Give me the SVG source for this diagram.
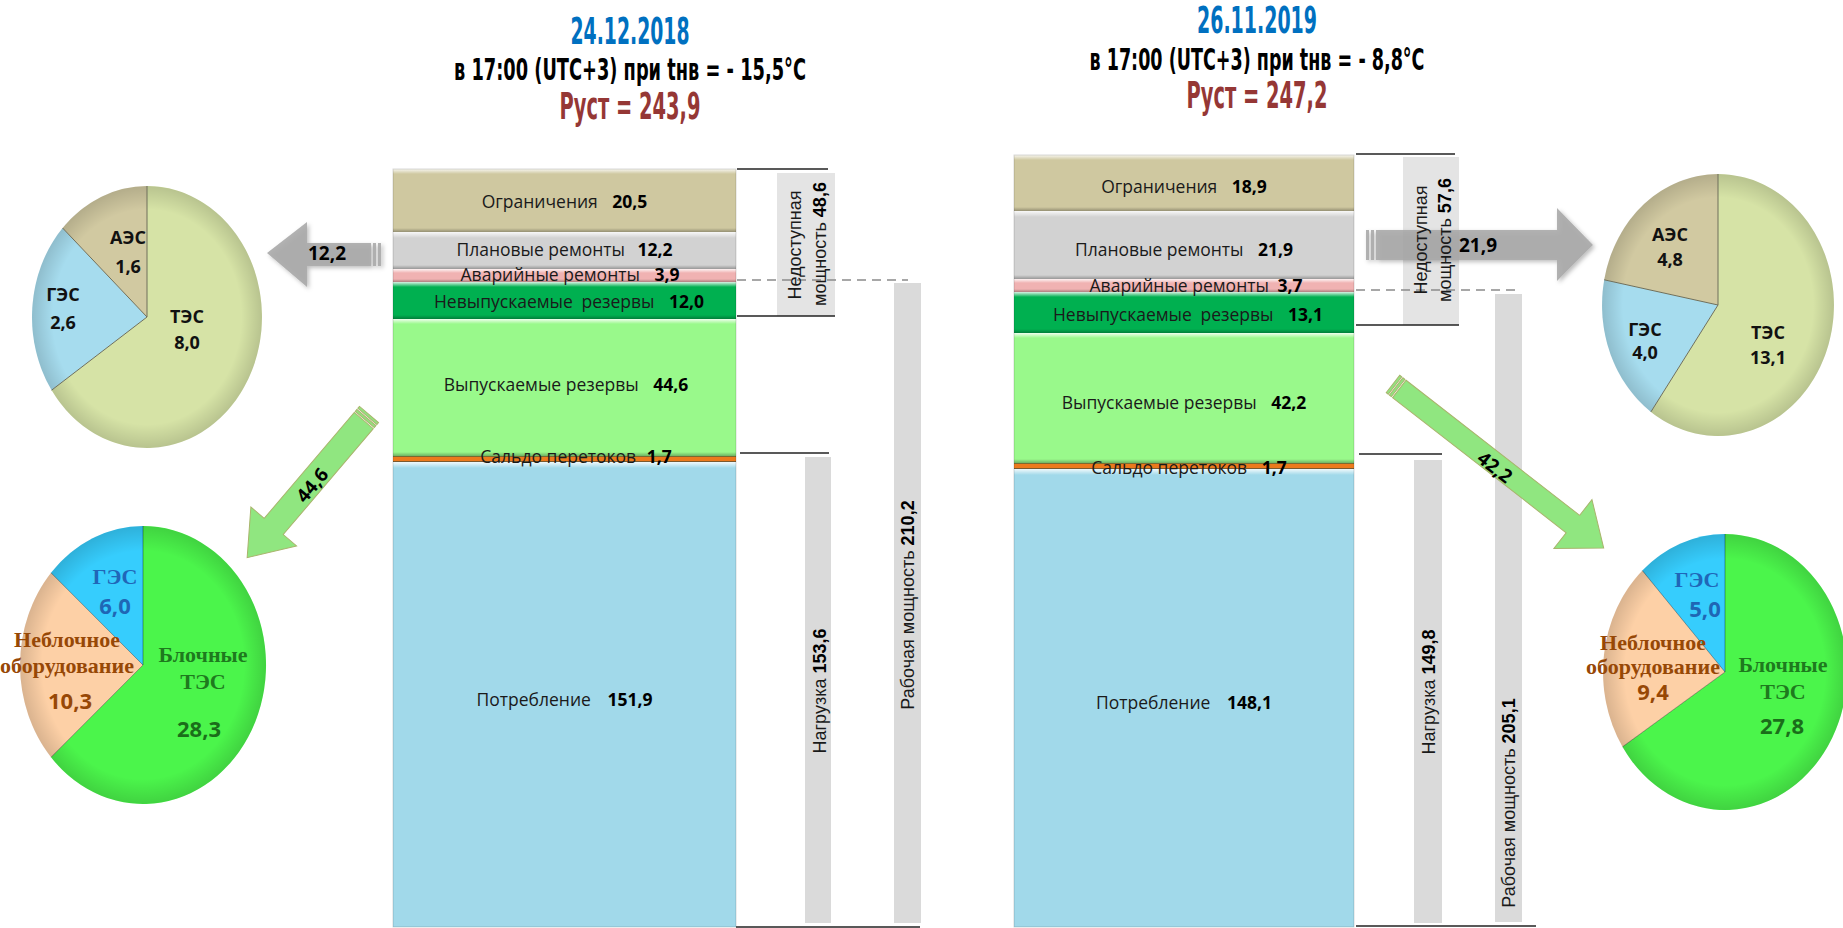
<svg xmlns="http://www.w3.org/2000/svg" width="1843" height="928" viewBox="0 0 1843 928">
<defs>
<style>
.lbl{font-family:"Open Sans","Noto Sans",sans-serif;font-size:17.5px;fill:#1a1a1a;text-anchor:middle}
.b{font-weight:bold;fill:#000}
.rot{font-family:"Liberation Sans",Arial,sans-serif;font-size:18px;fill:#1a1a1a;text-anchor:middle}
.pl{font-family:"Open Sans","Noto Sans",sans-serif;font-weight:bold;font-size:18px;fill:#111;text-anchor:middle}
.ps{font-family:"Liberation Serif","Times New Roman",serif;font-weight:bold;font-size:22px;text-anchor:middle}
.pn{font-family:"Open Sans","Noto Sans",sans-serif;font-weight:bold;font-size:22px;text-anchor:middle}
.t1{font-family:"DejaVu Sans Condensed","DejaVu Sans",sans-serif;font-weight:bold;text-anchor:middle}
.al{font-family:"Open Sans","Noto Sans",sans-serif;font-weight:bold;font-size:19px;fill:#000;text-anchor:middle}
.line{stroke:#222;stroke-width:1.5}
.dash{stroke:#8a8a8a;stroke-width:1.5;stroke-dasharray:9 6}
.gbar{fill:#dadada}
.garrow{fill:#a6a6a6;opacity:0.85}
.grarrow{fill:#90e680;stroke:#a9b46c;stroke-width:1}
.sep{stroke:#6f6f5a;stroke-width:1;fill:none}
.sep2{stroke:rgba(0,0,0,0.35);stroke-width:1;fill:none}
.hl{fill:url(#hl)}
.sh{fill:url(#sh)}
</style>
<linearGradient id="hl" x1="0" y1="0" x2="0" y2="1">
<stop offset="0" stop-color="#fff" stop-opacity="0.85"/>
<stop offset="1" stop-color="#fff" stop-opacity="0"/>
</linearGradient>
<linearGradient id="sh" x1="0" y1="0" x2="0" y2="1">
<stop offset="0" stop-color="#000" stop-opacity="0"/>
<stop offset="1" stop-color="#000" stop-opacity="0.28"/>
</linearGradient>
<radialGradient id="pieShade" cx="0.5" cy="0.5" r="0.5">
<stop offset="0.82" stop-color="#000" stop-opacity="0"/>
<stop offset="1" stop-color="#000" stop-opacity="0.14"/>
</radialGradient>
<filter id="shadow" x="-20%" y="-20%" width="140%" height="140%">
<feDropShadow dx="2" dy="2" stdDeviation="2" flood-color="#000" flood-opacity="0.3"/>
</filter>
</defs>
<rect x="0" y="0" width="1843" height="928" fill="#fff"/>

<g id="title-left">
<text class="t1" x="630" y="44" font-size="38" textLength="119" lengthAdjust="spacingAndGlyphs" fill="#0070c0">24.12.2018</text>
<text class="t1" x="630" y="80" font-size="31" textLength="352" lengthAdjust="spacingAndGlyphs" fill="#000">в 17:00 (UTC+3) при tнв = - 15,5°C</text>
<text class="t1" x="630" y="119" font-size="37" textLength="141" lengthAdjust="spacingAndGlyphs" fill="#953735">Руст = 243,9</text>
</g>
<g id="title-right">
<text class="t1" x="1257" y="33" font-size="38" textLength="120" lengthAdjust="spacingAndGlyphs" fill="#0070c0">26.11.2019</text>
<text class="t1" x="1257" y="70" font-size="31" textLength="335" lengthAdjust="spacingAndGlyphs" fill="#000">в 17:00 (UTC+3) при tнв =  - 8,8°C</text>
<text class="t1" x="1257" y="108" font-size="37" textLength="141" lengthAdjust="spacingAndGlyphs" fill="#953735">Руст = 247,2</text>
</g>

<g id="bar-left">
<rect x="393" y="169" width="343" height="63" fill="#cfc8a0"/>
<rect x="393" y="169" width="343" height="5" class="hl"/><rect x="393" y="228" width="343" height="4" class="sh"/>
<rect x="393" y="232" width="343" height="37" fill="#d2d2d2"/>
<rect x="393" y="232" width="343" height="6" class="hl"/><rect x="393" y="265" width="343" height="4" class="sh"/>
<rect x="393" y="269" width="343" height="13" fill="#f0b2b2"/>
<rect x="393" y="269" width="343" height="4" class="hl"/><rect x="393" y="279" width="343" height="3" class="sh"/>
<rect x="393" y="282" width="343" height="37" fill="#00b050"/>
<rect x="393" y="282" width="343" height="5" class="hl"/><rect x="393" y="315" width="343" height="4" class="sh"/>
<rect x="393" y="319" width="343" height="137" fill="#99f98b"/>
<rect x="393" y="319" width="343" height="5" class="hl"/><rect x="393" y="452" width="343" height="4" class="sh"/>
<rect x="393" y="462" width="343" height="465" fill="#a1d9ea"/>
<rect x="393" y="462" width="343" height="6" class="hl"/>
<rect x="393" y="456" width="343" height="6" fill="#ec7a1c"/>
<line x1="393" y1="456.5" x2="736" y2="456.5" stroke="#7a6a30" stroke-width="1"/>
<line x1="393" y1="461.5" x2="736" y2="461.5" stroke="#7a5a30" stroke-width="1"/>
<rect x="393" y="169" width="343" height="758" fill="none" stroke="rgba(0,0,0,0.15)" stroke-width="1"/>
<text class="lbl" x="564.5" y="208">Ограничения <tspan class="b" dx="10">20,5</tspan></text>
<text class="lbl" x="564.5" y="256">Плановые ремонты <tspan class="b" dx="8">12,2</tspan></text>
<text class="lbl" x="570" y="281">Аварийные ремонты <tspan class="b" dx="10">3,9</tspan></text>
<text class="lbl" x="569" y="308">Невыпускаемые <tspan dx="4">резервы</tspan> <tspan class="b" dx="10">12,0</tspan></text>
<text class="lbl" x="566" y="391">Выпускаемые резервы <tspan class="b" dx="10">44,6</tspan></text>
<text class="lbl" x="576" y="463">Сальдо перетоков <tspan class="b" dx="6">1,7</tspan></text>
<text class="lbl" x="564.5" y="706">Потребление <tspan class="b" dx="12">151,9</tspan></text>
</g>

<g id="bar-right">
<rect x="1014" y="155" width="340" height="56" fill="#cfc8a0"/>
<rect x="1014" y="155" width="340" height="5" class="hl"/><rect x="1014" y="207" width="340" height="4" class="sh"/>
<rect x="1014" y="211" width="340" height="68" fill="#d2d2d2"/>
<rect x="1014" y="211" width="340" height="6" class="hl"/><rect x="1014" y="275" width="340" height="4" class="sh"/>
<rect x="1014" y="279" width="340" height="13" fill="#f0b2b2"/>
<rect x="1014" y="279" width="340" height="4" class="hl"/><rect x="1014" y="289" width="340" height="3" class="sh"/>
<rect x="1014" y="292" width="340" height="41" fill="#00b050"/>
<rect x="1014" y="292" width="340" height="5" class="hl"/><rect x="1014" y="329" width="340" height="4" class="sh"/>
<rect x="1014" y="333" width="340" height="130" fill="#99f98b"/>
<rect x="1014" y="333" width="340" height="5" class="hl"/><rect x="1014" y="459" width="340" height="4" class="sh"/>
<rect x="1014" y="469" width="340" height="458" fill="#a1d9ea"/>
<rect x="1014" y="469" width="340" height="6" class="hl"/>
<rect x="1014" y="463" width="340" height="6" fill="#ec7a1c"/>
<line x1="1014" y1="463.5" x2="1354" y2="463.5" stroke="#7a6a30" stroke-width="1"/>
<line x1="1014" y1="468.5" x2="1354" y2="468.5" stroke="#7a5a30" stroke-width="1"/>
<rect x="1014" y="155" width="340" height="772" fill="none" stroke="rgba(0,0,0,0.15)" stroke-width="1"/>
<text class="lbl" x="1184" y="193">Ограничения <tspan class="b" dx="10">18,9</tspan></text>
<text class="lbl" x="1184" y="256">Плановые ремонты <tspan class="b" dx="10">21,9</tspan></text>
<text class="lbl" x="1196" y="292">Аварийные ремонты <tspan class="b" dx="4">3,7</tspan></text>
<text class="lbl" x="1188" y="321">Невыпускаемые <tspan dx="4">резервы</tspan> <tspan class="b" dx="10">13,1</tspan></text>
<text class="lbl" x="1184" y="409">Выпускаемые резервы <tspan class="b" dx="10">42,2</tspan></text>
<text class="lbl" x="1189" y="474">Сальдо перетоков <tspan class="b" dx="10">1,7</tspan></text>
<text class="lbl" x="1184" y="709">Потребление <tspan class="b" dx="12">148,1</tspan></text>
</g>

<g id="brackets-left">
<rect x="777" y="173" width="58" height="143" fill="#e4e4e4"/>
<rect class="gbar" x="805" y="457" width="26" height="466"/>
<rect class="gbar" x="894" y="283" width="27" height="640"/>
<line class="line" x1="737" y1="169" x2="828" y2="169"/>
<line class="line" x1="737" y1="316" x2="835" y2="316"/>
<line class="line" x1="740" y1="453" x2="829" y2="453"/>
<line class="line" x1="736" y1="927" x2="920" y2="927"/>
<line class="dash" x1="737" y1="280" x2="908" y2="280"/>
<text class="rot" transform="translate(800.5,245) rotate(-90)">Недоступная</text>
<text class="rot" transform="translate(825.5,244) rotate(-90)">мощность <tspan font-weight="bold" fill="#000">48,6</tspan></text>
<text class="rot" transform="translate(826,691) rotate(-90)">Нагрузка <tspan font-weight="bold" fill="#000">153,6</tspan></text>
<text class="rot" transform="translate(914,605) rotate(-90)">Рабочая мощность <tspan font-weight="bold" fill="#000">210,2</tspan></text>
</g>

<g id="brackets-right">
<rect x="1403" y="157" width="56" height="168" fill="#e4e4e4"/>
<rect class="gbar" x="1414" y="460" width="28" height="463"/>
<rect class="gbar" x="1495" y="294" width="27" height="628"/>
<line class="line" x1="1356" y1="154" x2="1455" y2="154"/>
<line class="line" x1="1356" y1="325" x2="1459" y2="325"/>
<line class="line" x1="1359" y1="454" x2="1442" y2="454"/>
<line class="line" x1="1356" y1="926" x2="1536" y2="926"/>
<line class="dash" x1="1356" y1="290" x2="1516" y2="290"/>
</g>

<g id="connectors">
<g id="arrow-left-gray" filter="url(#shadow)">
<polygon class="garrow" points="267,253 307,222 307,243 371,243 371,266 307,266 307,287"/>
<rect class="garrow" x="373" y="243" width="3" height="23"/>
<rect class="garrow" x="378" y="243" width="3" height="23"/>
</g>
<text class="al" x="327" y="260">12,2</text>
<g id="arrow-right-gray" filter="url(#shadow)">
<polygon class="garrow" points="1376,230 1557,230 1557,208 1593,245 1557,281 1557,260 1376,260"/>
<rect class="garrow" x="1366" y="230" width="3" height="30"/>
<rect class="garrow" x="1371" y="230" width="3" height="30"/>
</g>
<text class="al" x="1478" y="252">21,9</text>
<g id="arrow-left-green" transform="translate(369,414.5) rotate(130.4)">
<polygon class="grarrow" points="8,-12.5 147,-12.5 147,-30 188,0 147,30 147,12.5 8,12.5"/>
<rect class="grarrow" x="0" y="-12.5" width="2.5" height="25"/>
<rect class="grarrow" x="4" y="-12.5" width="2.5" height="25"/>
</g>
<text class="al" transform="translate(312,485) rotate(-49.6)" y="7">44,6</text>
<g id="arrow-right-green" transform="translate(1393,384) rotate(37.9)">
<polygon class="grarrow" points="8,-11 228,-11 228,-31 267,0 228,31 228,11 8,11"/>
<rect class="grarrow" x="0" y="-11" width="2.5" height="22"/>
<rect class="grarrow" x="4" y="-11" width="2.5" height="22"/>
</g>
<text class="al" transform="translate(1495,467) rotate(37.9)" y="7">42,2</text>
</g>

<g id="brackets-right-text">
<text class="rot" transform="translate(1426.5,240) rotate(-90)">Недоступная</text>
<text class="rot" transform="translate(1450.5,240) rotate(-90)">мощность <tspan font-weight="bold" fill="#000">57,6</tspan></text>
<text class="rot" transform="translate(1435,692) rotate(-90)">Нагрузка <tspan font-weight="bold" fill="#000">149,8</tspan></text>
<text class="rot" transform="translate(1515,803) rotate(-90)">Рабочая мощность <tspan font-weight="bold" fill="#000">205,1</tspan></text>
</g>

<g id="pie-left-top">
<path d="M147,317 L147,186 A115,131 0 1,1 51.6,390.2 Z" fill="#d6e3a6"/>
<path d="M147,317 L51.6,390.2 A115,131 0 0,1 62.6,228 Z" fill="#a6dcee"/>
<path d="M147,317 L62.6,228 A115,131 0 0,1 147,186 Z" fill="#d1c9a1"/>
<ellipse cx="147" cy="317" rx="115" ry="131" fill="url(#pieShade)"/>
<path class="sep" d="M147,186 L147,317 L51.6,390.2 M147,317 L62.6,228"/>
<text class="pl" x="128" y="244">АЭС</text>
<text class="pl" x="128" y="273">1,6</text>
<text class="pl" x="63" y="301">ГЭС</text>
<text class="pl" x="63" y="329">2,6</text>
<text class="pl" x="187" y="323">ТЭС</text>
<text class="pl" x="187" y="349">8,0</text>
</g>

<g id="pie-left-bottom">
<path d="M143,665 L143,526 A123,139 0 1,1 51,757.2 Z" fill="#4bf54b"/>
<path d="M143,665 L51,757.2 A123,139 0 0,1 51,572.8 Z" fill="#fdd0a6"/>
<path d="M143,665 L51,572.8 A123,139 0 0,1 143,526 Z" fill="#36cdfd"/>
<ellipse cx="143" cy="665" rx="123" ry="139" fill="url(#pieShade)"/>
<path class="sep2" d="M143,526 L143,665 L51,757.2 M143,665 L51,572.8"/>
<text class="ps" x="115" y="584" fill="#2066b8">ГЭС</text>
<text class="pn" x="115" y="614" fill="#1f66b5">6,0</text>
<text class="ps" x="67" y="647" fill="#974806">Неблочное</text>
<text class="ps" x="67" y="673" fill="#974806">оборудование</text>
<text class="pn" x="70" y="709" fill="#974806">10,3</text>
<text class="ps" x="203" y="662" fill="#1e7a1e">Блочные</text>
<text class="ps" x="203" y="689" fill="#1e7a1e">ТЭС</text>
<text class="pn" x="199" y="737" fill="#1a6e1a">28,3</text>
</g>

<g id="pie-right-top">
<path d="M1718,305 L1718,174 A116,131 0 1,1 1650.9,411.9 Z" fill="#d6e3a6"/>
<path d="M1718,305 L1650.9,411.9 A116,131 0 0,1 1604.2,279.8 Z" fill="#a6dcee"/>
<path d="M1718,305 L1604.2,279.8 A116,131 0 0,1 1718,174 Z" fill="#d1c9a1"/>
<ellipse cx="1718" cy="305" rx="116" ry="131" fill="url(#pieShade)"/>
<path class="sep" d="M1718,174 L1718,305 L1650.9,411.9 M1718,305 L1604.2,279.8"/>
<text class="pl" x="1670" y="241">АЭС</text>
<text class="pl" x="1670" y="266">4,8</text>
<text class="pl" x="1645" y="336">ГЭС</text>
<text class="pl" x="1645" y="359">4,0</text>
<text class="pl" x="1768" y="339">ТЭС</text>
<text class="pl" x="1768" y="364">13,1</text>
</g>

<g id="pie-right-bottom">
<path d="M1725,672 L1725,534 A122,138 0 1,1 1622.5,746.8 Z" fill="#4bf54b"/>
<path d="M1725,672 L1622.5,746.8 A122,138 0 0,1 1642.3,570.5 Z" fill="#fdd0a6"/>
<path d="M1725,672 L1642.3,570.5 A122,138 0 0,1 1725,534 Z" fill="#36cdfd"/>
<ellipse cx="1725" cy="672" rx="122" ry="138" fill="url(#pieShade)"/>
<path class="sep2" d="M1725,534 L1725,672 L1622.5,746.8 M1725,672 L1642.3,570.5"/>
<text class="ps" x="1697" y="587" fill="#2066b8">ГЭС</text>
<text class="pn" x="1705" y="617" fill="#1f66b5">5,0</text>
<text class="ps" x="1653" y="650" fill="#974806">Неблочное</text>
<text class="ps" x="1653" y="674" fill="#974806">оборудование</text>
<text class="pn" x="1653" y="700" fill="#974806">9,4</text>
<text class="ps" x="1783" y="672" fill="#1e7a1e">Блочные</text>
<text class="ps" x="1783" y="699" fill="#1e7a1e">ТЭС</text>
<text class="pn" x="1782" y="734" fill="#1a6e1a">27,8</text>
</g>
</svg>
